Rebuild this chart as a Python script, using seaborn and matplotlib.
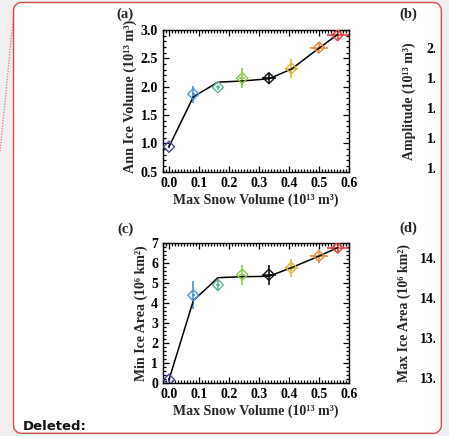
import numpy as np
import pandas as pd
import matplotlib
matplotlib.use("Agg")
import matplotlib.pyplot as plt
import seaborn as sns
from matplotlib.path import Path
from matplotlib.patches import PathPatch, Rectangle
from matplotlib.lines import Line2D
from matplotlib.ticker import MultipleLocator, FormatStrFormatter

# ---- data -------------------------------------------------------------
runs = ["S0", "S1", "S2", "S3", "S4", "S5", "S6", "S7"]
run_colors = ["#4646aa", "#4a8fd8", "#5db89a", "#8cc84a", "#111111",
              "#d8bc3c", "#ee8a3c", "#e63c3c"]

snow_vol = [0.0, 0.081, 0.163, 0.244, 0.333, 0.408, 0.500, 0.562]
snow_err = [0.004, 0.006, 0.006, 0.010, 0.022, 0.022, 0.030, 0.037]

ice_vol = [0.94, 1.87, 1.99, 2.15, 2.15, 2.32, 2.69, 2.91]
ice_vol_err = [0.03, 0.15, 0.04, 0.18, 0.10, 0.17, 0.10, 0.06]
ice_vol_fit = [0.94, 1.82, 2.08, 2.10, 2.14, 2.31, 2.68, 2.92]

min_area = [0.18, 4.40, 4.92, 5.43, 5.43, 5.78, 6.36, 6.78]
min_area_err = [0.10, 0.70, 0.30, 0.50, 0.50, 0.46, 0.36, 0.22]
min_area_fit = [0.18, 4.13, 5.28, 5.33, 5.35, 5.78, 6.36, 6.78]

amp_ticks = [1.2, 1.4, 1.6, 1.8, 2.0]
max_area_ticks = [13.0, 13.5, 14.0, 14.5]

snow_label = "Max Snow Volume (10¹³ m³)"
vol_label = "Ann Ice Volume (10¹³ m³)"
amp_label = "Amplitude (10¹³ m³)"
min_area_label = "Min Ice Area (10⁶ km²)"
max_area_label = "Max Ice Area (10⁶ km²)"

# ---- style ------------------------------------------------------------
sns.set_style("ticks")
plt.rcParams["font.family"] = ["Liberation Serif", "DejaVu Serif"]
plt.rcParams["font.weight"] = "bold"

W, H = 449, 436
BG = "#efefef"
fig = plt.figure(figsize=(W / 100, H / 100), dpi=100)
fig.patch.set_facecolor(BG)


def fx(px):
    return px / W


def fy(py):
    return 1 - py / H


def rounded_rect(x0, y0, x1, y1, r, n=12):
    """Polyline of a rounded rectangle given in pixel coords."""
    pts = []
    corners = [(x1 - r, y0 + r, -90, 0), (x1 - r, y1 - r, 0, 90),
               (x0 + r, y1 - r, 90, 180), (x0 + r, y0 + r, 180, 270)]
    for cx, cy, a0, a1 in corners:
        for a in np.linspace(np.radians(a0), np.radians(a1), n):
            pts.append((cx + r * np.cos(a), cy + r * np.sin(a)))
    pts.append(pts[0])
    return [(fx(x), fy(y)) for x, y in pts]


BX0, BY0, BX1, BY1, BR = 13.5, 2.5, 441.3, 433.3, 8

# white comment box behind the charts
box_pts = rounded_rect(BX0, BY0, BX1, BY1, BR)
fig.patches.append(PathPatch(Path(box_pts), transform=fig.transFigure,
                             facecolor="white", edgecolor="none", zorder=-5))


def style_axes(ax, xlim, ylim, ymaj, ymin, yfmt):
    ax.set_xlim(*xlim)
    ax.set_ylim(*ylim)
    ax.xaxis.set_major_locator(MultipleLocator(0.1))
    ax.xaxis.set_minor_locator(MultipleLocator(0.01))
    ax.xaxis.set_major_formatter(FormatStrFormatter("%.1f"))
    ax.yaxis.set_major_locator(MultipleLocator(ymaj))
    ax.yaxis.set_minor_locator(MultipleLocator(ymin))
    ax.yaxis.set_major_formatter(FormatStrFormatter(yfmt))
    ax.tick_params(which="both", direction="in", top=True, right=True,
                   width=0.9, colors="black", labelsize=10, pad=3.5)
    ax.tick_params(which="major", length=4)
    ax.tick_params(which="minor", length=2)
    for s in ax.spines.values():
        s.set_linewidth(1.0)
        s.set_color("black")
    ax.set_facecolor("none")


def panel(ax, vals, errs, fit, ylim, ymaj, ymin, yfmt, ylabel, ysize, ypos):
    df = pd.DataFrame({"run": runs, "snow": snow_vol, "val": vals, "fit": fit})
    for xi, yi, xe, ye, c in zip(snow_vol, vals, snow_err, errs, run_colors):
        ax.errorbar(xi, yi, xerr=xe, yerr=ye, fmt="none", ecolor=c,
                    elinewidth=1.3, capsize=0, alpha=0.9, zorder=2)
    sns.lineplot(data=df, x="snow", y="fit", color="black", linewidth=1.1,
                 ax=ax, zorder=3)
    sns.scatterplot(data=df, x="snow", y="val", hue="run", palette=run_colors,
                    marker="D", s=32, linewidth=1.0, legend=False, ax=ax, zorder=4)
    pts = ax.collections[-1]
    pts.set_edgecolors(pts.get_facecolors())
    pts.set_facecolors("none")
    style_axes(ax, (-0.02, 0.6), ylim, ymaj, ymin, yfmt)
    ax.set_xlabel(snow_label, fontsize=10, fontweight="bold", labelpad=2.5)
    ax.set_ylabel(ylabel, fontsize=ysize, fontweight="bold", labelpad=2.5)
    ax.yaxis.label.set_y(ypos)


ax_a = fig.add_axes([fx(163), fy(171.7), fx(186), 141.7 / H])
panel(ax_a, ice_vol, ice_vol_err, ice_vol_fit, (0.5, 3.0), 0.5, 0.1, "%.1f",
      vol_label, 10.3, 0.53)

ax_c = fig.add_axes([fx(163), fy(383.3), fx(186), 140 / H])
panel(ax_c, min_area, min_area_err, min_area_fit, (0, 7), 1, 0.2, "%d",
      min_area_label, 10, 0.5)

# right-hand panels, mostly beyond the edge of the box
ax_b = fig.add_axes([fx(449), fy(171.7), fx(186), 141.7 / H])
style_axes(ax_b, (-0.02, 0.6), (1.175, 2.12), 0.2, 0.05, "%.1f")
ax_b.set_yticks(amp_ticks)
ax_b.set_ylabel(amp_label, fontsize=10, fontweight="bold", labelpad=8)

ax_d = fig.add_axes([fx(449), fy(383.3), fx(186), 140 / H])
style_axes(ax_d, (-0.02, 0.6), (12.93, 14.68), 0.5, 0.1, "%.1f")
ax_d.set_yticks(max_area_ticks)
ax_d.set_ylabel(max_area_label, fontsize=10, fontweight="bold", labelpad=6.5)

for lab, x, y in [("(a)", 125, 14), ("(b)", 408, 14),
                  ("(c)", 125, 229), ("(d)", 408, 228)]:
    fig.text(fx(x), fy(y), lab, ha="center", va="center", fontsize=10.5,
             fontweight="bold")

# ---- box frame drawn over everything ---------------------------------
CLIP_X = 435.4
fig.patches.append(Rectangle((fx(CLIP_X), fy(BY1 - 2)), fx(BX1 - CLIP_X),
                             (BY1 - BY0 - 4) / H, transform=fig.transFigure,
                             facecolor="white", edgecolor="none", zorder=20))
outer = [(0, 0), (0, 1), (1, 1), (1, 0), (0, 0)]
hole = box_pts[::-1]
mask = Path.make_compound_path(Path(outer), Path(hole))
fig.patches.append(PathPatch(mask, transform=fig.transFigure,
                             facecolor=BG, edgecolor="none", zorder=21))
fig.patches.append(PathPatch(Path(box_pts), transform=fig.transFigure,
                             facecolor="none", edgecolor="#d84a4a",
                             linewidth=1.0, zorder=22))
fig.lines.append(Line2D([fx(13.5), fx(0)], [fy(16), fy(152)],
                        transform=fig.transFigure, color="#d85a5a",
                        linestyle=(0, (1, 1.2)), linewidth=0.9, alpha=0.8,
                        zorder=22))

fig.text(fx(22.5), fy(430), "Deleted:", ha="left", va="baseline",
         fontsize=9.5, fontweight="bold", family=["DejaVu Sans"],
         color="#111111", zorder=23)

fig.savefig("out.png", dpi=100, facecolor=fig.get_facecolor())
